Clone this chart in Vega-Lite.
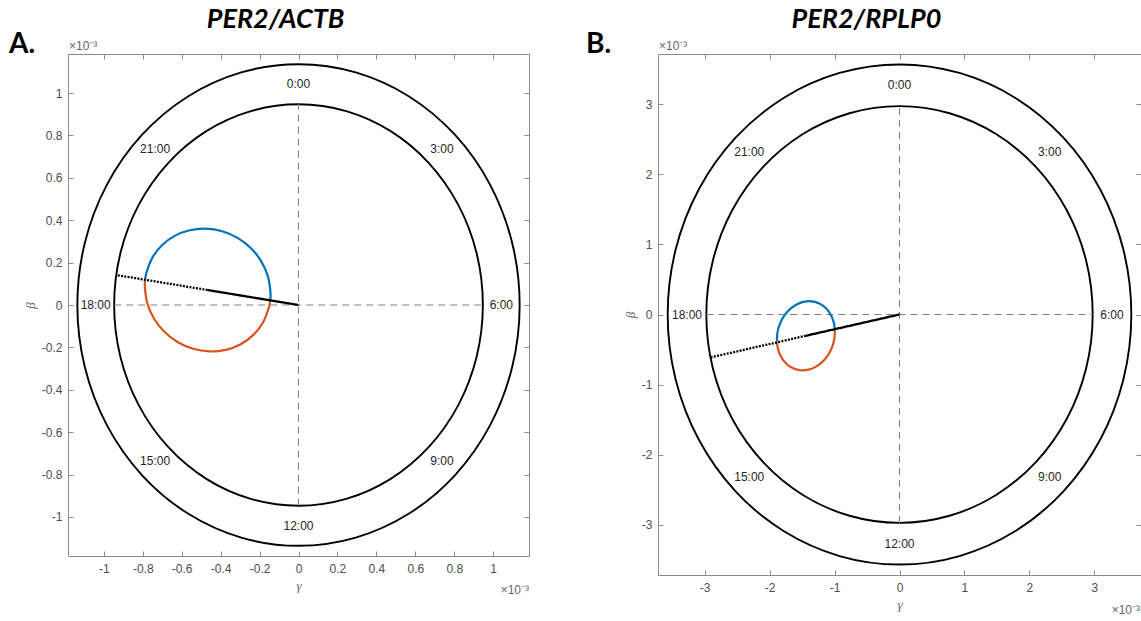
{
  "$schema": "https://vega.github.io/schema/vega-lite/v6.json",
  "padding": {"left": 8, "top": 5, "right": 0, "bottom": 0},
  "spacing": 55,
  "config": {
    "view": {"stroke": "#8c8c8c", "strokeWidth": 1},
    "axis": {
      "domain": false, "grid": false, "tickColor": "#8c8c8c", "tickSize": -5,
      "labelFont": "Liberation Sans", "labelFontSize": 12, "labelColor": "#4d4d4d", "labelPadding": 12,
      "titleFont": "Liberation Serif", "titleFontStyle": "italic", "titleFontWeight": "normal",
      "titleFontSize": 13, "titleColor": "#666666", "titlePadding": 5
    }
  },
  "datasets": {
    "ringA": [
      {"ring": "inner", "i": 0, "x": 0, "y": 0.947},
      {"ring": "inner", "i": 1, "x": 0.2451, "y": 0.9147},
      {"ring": "inner", "i": 2, "x": 0.4735, "y": 0.8201},
      {"ring": "inner", "i": 3, "x": 0.6696, "y": 0.6696},
      {"ring": "inner", "i": 4, "x": 0.8201, "y": 0.4735},
      {"ring": "inner", "i": 5, "x": 0.9147, "y": 0.2451},
      {"ring": "inner", "i": 6, "x": 0.947, "y": 0},
      {"ring": "inner", "i": 7, "x": 0.9147, "y": -0.2451},
      {"ring": "inner", "i": 8, "x": 0.8201, "y": -0.4735},
      {"ring": "inner", "i": 9, "x": 0.6696, "y": -0.6696},
      {"ring": "inner", "i": 10, "x": 0.4735, "y": -0.8201},
      {"ring": "inner", "i": 11, "x": 0.2451, "y": -0.9147},
      {"ring": "inner", "i": 12, "x": 0, "y": -0.947},
      {"ring": "inner", "i": 13, "x": -0.2451, "y": -0.9147},
      {"ring": "inner", "i": 14, "x": -0.4735, "y": -0.8201},
      {"ring": "inner", "i": 15, "x": -0.6696, "y": -0.6696},
      {"ring": "inner", "i": 16, "x": -0.8201, "y": -0.4735},
      {"ring": "inner", "i": 17, "x": -0.9147, "y": -0.2451},
      {"ring": "inner", "i": 18, "x": -0.947, "y": 0},
      {"ring": "inner", "i": 19, "x": -0.9147, "y": 0.2451},
      {"ring": "inner", "i": 20, "x": -0.8201, "y": 0.4735},
      {"ring": "inner", "i": 21, "x": -0.6696, "y": 0.6696},
      {"ring": "inner", "i": 22, "x": -0.4735, "y": 0.8201},
      {"ring": "inner", "i": 23, "x": -0.2451, "y": 0.9147},
      {"ring": "outer", "i": 0, "x": 0, "y": 1.136},
      {"ring": "outer", "i": 1, "x": 0.294, "y": 1.0973},
      {"ring": "outer", "i": 2, "x": 0.568, "y": 0.9838},
      {"ring": "outer", "i": 3, "x": 0.8033, "y": 0.8033},
      {"ring": "outer", "i": 4, "x": 0.9838, "y": 0.568},
      {"ring": "outer", "i": 5, "x": 1.0973, "y": 0.294},
      {"ring": "outer", "i": 6, "x": 1.136, "y": 0},
      {"ring": "outer", "i": 7, "x": 1.0973, "y": -0.294},
      {"ring": "outer", "i": 8, "x": 0.9838, "y": -0.568},
      {"ring": "outer", "i": 9, "x": 0.8033, "y": -0.8033},
      {"ring": "outer", "i": 10, "x": 0.568, "y": -0.9838},
      {"ring": "outer", "i": 11, "x": 0.294, "y": -1.0973},
      {"ring": "outer", "i": 12, "x": 0, "y": -1.136},
      {"ring": "outer", "i": 13, "x": -0.294, "y": -1.0973},
      {"ring": "outer", "i": 14, "x": -0.568, "y": -0.9838},
      {"ring": "outer", "i": 15, "x": -0.8033, "y": -0.8033},
      {"ring": "outer", "i": 16, "x": -0.9838, "y": -0.568},
      {"ring": "outer", "i": 17, "x": -1.0973, "y": -0.294},
      {"ring": "outer", "i": 18, "x": -1.136, "y": 0},
      {"ring": "outer", "i": 19, "x": -1.0973, "y": 0.294},
      {"ring": "outer", "i": 20, "x": -0.9838, "y": 0.568},
      {"ring": "outer", "i": 21, "x": -0.8033, "y": 0.8033},
      {"ring": "outer", "i": 22, "x": -0.568, "y": 0.9838},
      {"ring": "outer", "i": 23, "x": -0.294, "y": 1.0973}
    ],
    "ringB": [
      {"ring": "inner", "i": 0, "x": 0, "y": 2.975},
      {"ring": "inner", "i": 1, "x": 0.7699, "y": 2.8736},
      {"ring": "inner", "i": 2, "x": 1.4875, "y": 2.5764},
      {"ring": "inner", "i": 3, "x": 2.1036, "y": 2.1036},
      {"ring": "inner", "i": 4, "x": 2.5764, "y": 1.4875},
      {"ring": "inner", "i": 5, "x": 2.8736, "y": 0.7699},
      {"ring": "inner", "i": 6, "x": 2.975, "y": 0},
      {"ring": "inner", "i": 7, "x": 2.8736, "y": -0.7699},
      {"ring": "inner", "i": 8, "x": 2.5764, "y": -1.4875},
      {"ring": "inner", "i": 9, "x": 2.1036, "y": -2.1036},
      {"ring": "inner", "i": 10, "x": 1.4875, "y": -2.5764},
      {"ring": "inner", "i": 11, "x": 0.7699, "y": -2.8736},
      {"ring": "inner", "i": 12, "x": 0, "y": -2.975},
      {"ring": "inner", "i": 13, "x": -0.7699, "y": -2.8736},
      {"ring": "inner", "i": 14, "x": -1.4875, "y": -2.5764},
      {"ring": "inner", "i": 15, "x": -2.1036, "y": -2.1036},
      {"ring": "inner", "i": 16, "x": -2.5764, "y": -1.4875},
      {"ring": "inner", "i": 17, "x": -2.8736, "y": -0.7699},
      {"ring": "inner", "i": 18, "x": -2.975, "y": 0},
      {"ring": "inner", "i": 19, "x": -2.8736, "y": 0.7699},
      {"ring": "inner", "i": 20, "x": -2.5764, "y": 1.4875},
      {"ring": "inner", "i": 21, "x": -2.1036, "y": 2.1036},
      {"ring": "inner", "i": 22, "x": -1.4875, "y": 2.5764},
      {"ring": "inner", "i": 23, "x": -0.7699, "y": 2.8736},
      {"ring": "outer", "i": 0, "x": 0, "y": 3.57},
      {"ring": "outer", "i": 1, "x": 0.9239, "y": 3.4483},
      {"ring": "outer", "i": 2, "x": 1.785, "y": 3.0916},
      {"ring": "outer", "i": 3, "x": 2.5243, "y": 2.5243},
      {"ring": "outer", "i": 4, "x": 3.0916, "y": 1.785},
      {"ring": "outer", "i": 5, "x": 3.4483, "y": 0.9239},
      {"ring": "outer", "i": 6, "x": 3.57, "y": 0},
      {"ring": "outer", "i": 7, "x": 3.4483, "y": -0.9239},
      {"ring": "outer", "i": 8, "x": 3.0916, "y": -1.785},
      {"ring": "outer", "i": 9, "x": 2.5243, "y": -2.5243},
      {"ring": "outer", "i": 10, "x": 1.785, "y": -3.0916},
      {"ring": "outer", "i": 11, "x": 0.9239, "y": -3.4483},
      {"ring": "outer", "i": 12, "x": 0, "y": -3.57},
      {"ring": "outer", "i": 13, "x": -0.9239, "y": -3.4483},
      {"ring": "outer", "i": 14, "x": -1.785, "y": -3.0916},
      {"ring": "outer", "i": 15, "x": -2.5243, "y": -2.5243},
      {"ring": "outer", "i": 16, "x": -3.0916, "y": -1.785},
      {"ring": "outer", "i": 17, "x": -3.4483, "y": -0.9239},
      {"ring": "outer", "i": 18, "x": -3.57, "y": 0},
      {"ring": "outer", "i": 19, "x": -3.4483, "y": 0.9239},
      {"ring": "outer", "i": 20, "x": -3.0916, "y": 1.785},
      {"ring": "outer", "i": 21, "x": -2.5243, "y": 2.5243},
      {"ring": "outer", "i": 22, "x": -1.785, "y": 3.0916},
      {"ring": "outer", "i": 23, "x": -0.9239, "y": 3.4483}
    ],
    "ellA": [
      {"part": "upper", "i": 0, "x": -0.1457, "y": 0.0221},
      {"part": "upper", "i": 1, "x": -0.1441, "y": 0.061},
      {"part": "upper", "i": 2, "x": -0.1575, "y": 0.1363},
      {"part": "upper", "i": 3, "x": -0.192, "y": 0.207},
      {"part": "upper", "i": 4, "x": -0.2452, "y": 0.2685},
      {"part": "upper", "i": 5, "x": -0.3135, "y": 0.3165},
      {"part": "upper", "i": 6, "x": -0.3922, "y": 0.3477},
      {"part": "upper", "i": 7, "x": -0.4759, "y": 0.3601},
      {"part": "upper", "i": 8, "x": -0.5592, "y": 0.3527},
      {"part": "upper", "i": 9, "x": -0.636, "y": 0.326},
      {"part": "upper", "i": 10, "x": -0.7011, "y": 0.2819},
      {"part": "upper", "i": 11, "x": -0.7505, "y": 0.2234},
      {"part": "upper", "i": 12, "x": -0.7804, "y": 0.1546},
      {"part": "upper", "i": 13, "x": -0.7873, "y": 0.1189},
      {"part": "lower", "i": 0, "x": -0.7873, "y": 0.1189},
      {"part": "lower", "i": 1, "x": -0.7889, "y": 0.08},
      {"part": "lower", "i": 2, "x": -0.7755, "y": 0.0047},
      {"part": "lower", "i": 3, "x": -0.741, "y": -0.066},
      {"part": "lower", "i": 4, "x": -0.6878, "y": -0.1275},
      {"part": "lower", "i": 5, "x": -0.6195, "y": -0.1755},
      {"part": "lower", "i": 6, "x": -0.5408, "y": -0.2067},
      {"part": "lower", "i": 7, "x": -0.4571, "y": -0.2191},
      {"part": "lower", "i": 8, "x": -0.3738, "y": -0.2117},
      {"part": "lower", "i": 9, "x": -0.297, "y": -0.185},
      {"part": "lower", "i": 10, "x": -0.2319, "y": -0.1409},
      {"part": "lower", "i": 11, "x": -0.1825, "y": -0.0824},
      {"part": "lower", "i": 12, "x": -0.1526, "y": -0.0136},
      {"part": "lower", "i": 13, "x": -0.1457, "y": 0.0221}
    ],
    "ellB": [
      {"part": "upper", "i": 0, "x": -0.9956, "y": -0.2096},
      {"part": "upper", "i": 1, "x": -1.0153, "y": -0.1024},
      {"part": "upper", "i": 2, "x": -1.0649, "y": 0.0075},
      {"part": "upper", "i": 3, "x": -1.1403, "y": 0.0963},
      {"part": "upper", "i": 4, "x": -1.2361, "y": 0.1578},
      {"part": "upper", "i": 5, "x": -1.3459, "y": 0.1879},
      {"part": "upper", "i": 6, "x": -1.4623, "y": 0.1845},
      {"part": "upper", "i": 7, "x": -1.5773, "y": 0.1478},
      {"part": "upper", "i": 8, "x": -1.683, "y": 0.0804},
      {"part": "upper", "i": 9, "x": -1.7722, "y": -0.0132},
      {"part": "upper", "i": 10, "x": -1.8389, "y": -0.1266},
      {"part": "upper", "i": 11, "x": -1.8786, "y": -0.252},
      {"part": "upper", "i": 12, "x": -1.8884, "y": -0.381},
      {"part": "upper", "i": 13, "x": -1.8874, "y": -0.3974},
      {"part": "lower", "i": 0, "x": -1.8874, "y": -0.3974},
      {"part": "lower", "i": 1, "x": -1.8677, "y": -0.5046},
      {"part": "lower", "i": 2, "x": -1.8181, "y": -0.6145},
      {"part": "lower", "i": 3, "x": -1.7427, "y": -0.7033},
      {"part": "lower", "i": 4, "x": -1.6469, "y": -0.7648},
      {"part": "lower", "i": 5, "x": -1.5371, "y": -0.7949},
      {"part": "lower", "i": 6, "x": -1.4207, "y": -0.7915},
      {"part": "lower", "i": 7, "x": -1.3057, "y": -0.7548},
      {"part": "lower", "i": 8, "x": -1.2, "y": -0.6874},
      {"part": "lower", "i": 9, "x": -1.1108, "y": -0.5938},
      {"part": "lower", "i": 10, "x": -1.0441, "y": -0.4804},
      {"part": "lower", "i": 11, "x": -1.0044, "y": -0.355},
      {"part": "lower", "i": 12, "x": -0.9946, "y": -0.226},
      {"part": "lower", "i": 13, "x": -0.9956, "y": -0.2096}
    ],
    "radA": [
      {"seg": "solid", "i": 0, "x": 0, "y": 0},
      {"seg": "solid", "i": 1, "x": -0.4665, "y": 0.0705},
      {"seg": "dotted", "i": 0, "x": -0.4665, "y": 0.0705},
      {"seg": "dotted", "i": 1, "x": -0.9364, "y": 0.1415}
    ],
    "radB": [
      {"seg": "solid", "i": 0, "x": 0, "y": 0},
      {"seg": "solid", "i": 1, "x": -1.4415, "y": -0.3035},
      {"seg": "dotted", "i": 0, "x": -1.4415, "y": -0.3035},
      {"seg": "dotted", "i": 1, "x": -2.9113, "y": -0.6129}
    ],
    "dashA": [
      {"seg": "h", "i": 0, "x": -0.947, "y": 0},
      {"seg": "h", "i": 1, "x": 0.947, "y": 0},
      {"seg": "v", "i": 0, "x": 0, "y": -0.947},
      {"seg": "v", "i": 1, "x": 0, "y": 0.947}
    ],
    "dashB": [
      {"seg": "h", "i": 0, "x": -2.975, "y": 0},
      {"seg": "h", "i": 1, "x": 2.975, "y": 0},
      {"seg": "v", "i": 0, "x": 0, "y": -2.975},
      {"seg": "v", "i": 1, "x": 0, "y": 2.975}
    ],
    "lblA": [
      {"t": "0:00", "x": 0, "y": 1.0417},
      {"t": "3:00", "x": 0.7366, "y": 0.7366},
      {"t": "6:00", "x": 1.0417, "y": 0},
      {"t": "9:00", "x": 0.7366, "y": -0.7366},
      {"t": "12:00", "x": 0, "y": -1.0417},
      {"t": "15:00", "x": -0.7366, "y": -0.7366},
      {"t": "18:00", "x": -1.0417, "y": 0},
      {"t": "21:00", "x": -0.7366, "y": 0.7366}
    ],
    "lblB": [
      {"t": "0:00", "x": 0, "y": 3.2725},
      {"t": "3:00", "x": 2.314, "y": 2.314},
      {"t": "6:00", "x": 3.2725, "y": 0},
      {"t": "9:00", "x": 2.314, "y": -2.314},
      {"t": "12:00", "x": 0, "y": -3.2725},
      {"t": "15:00", "x": -2.314, "y": -2.314},
      {"t": "18:00", "x": -3.2725, "y": 0},
      {"t": "21:00", "x": -2.314, "y": 2.314}
    ]
  },
  "hconcat": [
    {
      "width": 461,
      "height": 502,
      "title": {"text": "PER2/ACTB", "font": "Lato", "fontSize": 27, "fontStyle": "italic", "fontWeight": "bold", "color": "#000000", "offset": -3, "frame": "group", "dx": -23},
      "layer": [
        {
          "data": {"name": "ringA"},
          "mark": {"type": "line", "interpolate": "cardinal-closed", "color": "#000000", "strokeWidth": 1.9},
          "encoding": {
            "x": {"field": "x", "type": "quantitative", "scale": {"domain": [-1.184, 1.184], "nice": false, "zero": false},
                  "axis": {"orient": "bottom", "values": [-1, -0.8, -0.6, -0.4, -0.2, 0, 0.2, 0.4, 0.6, 0.8, 1], "labelExpr": "'' + datum.value", "title": "γ"}},
            "y": {"field": "y", "type": "quantitative", "scale": {"domain": [-1.184, 1.184], "nice": false, "zero": false},
                  "axis": {"orient": "left", "values": [-1, -0.8, -0.6, -0.4, -0.2, 0, 0.2, 0.4, 0.6, 0.8, 1], "labelExpr": "'' + datum.value", "title": "β", "labelPadding": 11, "titlePadding": 4}},
            "detail": {"field": "ring", "type": "nominal"},
            "order": {"field": "i", "type": "quantitative"}
          }
        },
        {
          "data": {"name": "dashA"},
          "mark": {"type": "line", "color": "#808080", "strokeWidth": 1.1, "strokeDash": [7, 5]},
          "encoding": {
            "x": {"field": "x", "type": "quantitative", "scale": {"domain": [-1.184, 1.184], "nice": false, "zero": false},
                  "axis": {"orient": "top", "values": [-1, -0.8, -0.6, -0.4, -0.2, 0, 0.2, 0.4, 0.6, 0.8, 1], "labels": false, "title": null}},
            "y": {"field": "y", "type": "quantitative", "scale": {"domain": [-1.184, 1.184], "nice": false, "zero": false},
                  "axis": {"orient": "right", "values": [-1, -0.8, -0.6, -0.4, -0.2, 0, 0.2, 0.4, 0.6, 0.8, 1], "labels": false, "title": null}},
            "detail": {"field": "seg", "type": "nominal"},
            "order": {"field": "i", "type": "quantitative"}
          }
        },
        {
          "data": {"name": "ellA"},
          "mark": {"type": "line", "interpolate": "cardinal", "strokeWidth": 2.2},
          "encoding": {
            "x": {"field": "x", "type": "quantitative", "axis": null},
            "y": {"field": "y", "type": "quantitative", "axis": null},
            "color": {"field": "part", "type": "nominal", "scale": {"domain": ["upper", "lower"], "range": ["#0072BD", "#D95319"]}, "legend": null},
            "order": {"field": "i", "type": "quantitative"}
          }
        },
        {
          "data": {"name": "radA"},
          "mark": {"type": "line", "color": "#000000", "strokeWidth": 2.3},
          "encoding": {
            "x": {"field": "x", "type": "quantitative", "axis": null},
            "y": {"field": "y", "type": "quantitative", "axis": null},
            "strokeDash": {"field": "seg", "type": "nominal", "scale": {"domain": ["solid", "dotted"], "range": [[1, 0], [2, 1.3]]}, "legend": null},
            "order": {"field": "i", "type": "quantitative"}
          }
        },
        {
          "data": {"name": "lblA"},
          "mark": {"type": "text", "font": "Liberation Sans", "fontSize": 12, "color": "#262626", "align": "center", "baseline": "middle"},
          "encoding": {
            "x": {"field": "x", "type": "quantitative", "axis": null},
            "y": {"field": "y", "type": "quantitative", "axis": null},
            "text": {"field": "t", "type": "nominal"}
          }
        },
        {
          "data": {"values": [{}]},
          "mark": {"type": "text", "text": "A.", "font": "Lato", "fontSize": 28, "fontWeight": "bold", "color": "#000000", "align": "left", "baseline": "middle", "dx": -59, "dy": -9},
          "encoding": {"x": {"datum": -1.184, "type": "quantitative", "axis": null}, "y": {"datum": 1.184, "type": "quantitative", "axis": null}}
        },
        {
          "data": {"values": [{}]},
          "mark": {"type": "text", "text": "×10⁻³", "font": "Liberation Sans", "fontSize": 12, "color": "#666666", "align": "left", "baseline": "middle", "dx": 1, "dy": -8},
          "encoding": {"x": {"datum": -1.184, "type": "quantitative", "axis": null}, "y": {"datum": 1.184, "type": "quantitative", "axis": null}}
        },
        {
          "data": {"values": [{}]},
          "mark": {"type": "text", "text": "×10⁻³", "font": "Liberation Sans", "fontSize": 12, "color": "#666666", "align": "right", "baseline": "middle", "dx": 0, "dy": 34},
          "encoding": {"x": {"datum": 1.184, "type": "quantitative", "axis": null}, "y": {"datum": -1.184, "type": "quantitative", "axis": null}}
        }
      ],
      "resolve": {"axis": {"x": "independent", "y": "independent"}}
    },
    {
      "width": 483,
      "height": 521,
      "title": {"text": "PER2/RPLP0", "font": "Lato", "fontSize": 27, "fontStyle": "italic", "fontWeight": "bold", "color": "#000000", "offset": -3, "frame": "group", "dx": -33},
      "layer": [
        {
          "data": {"name": "ringB"},
          "mark": {"type": "line", "interpolate": "cardinal-closed", "color": "#000000", "strokeWidth": 1.9},
          "encoding": {
            "x": {"field": "x", "type": "quantitative", "scale": {"domain": [-3.719, 3.719], "nice": false, "zero": false},
                  "axis": {"orient": "bottom", "values": [-3, -2, -1, 0, 1, 2, 3], "labelExpr": "'' + datum.value", "title": "γ"}},
            "y": {"field": "y", "type": "quantitative", "scale": {"domain": [-3.719, 3.719], "nice": false, "zero": false},
                  "axis": {"orient": "left", "values": [-3, -2, -1, 0, 1, 2, 3], "labelExpr": "'' + datum.value", "title": "β", "labelPadding": 11, "titlePadding": 4}},
            "detail": {"field": "ring", "type": "nominal"},
            "order": {"field": "i", "type": "quantitative"}
          }
        },
        {
          "data": {"name": "dashB"},
          "mark": {"type": "line", "color": "#808080", "strokeWidth": 1.1, "strokeDash": [7, 5]},
          "encoding": {
            "x": {"field": "x", "type": "quantitative", "scale": {"domain": [-3.719, 3.719], "nice": false, "zero": false},
                  "axis": {"orient": "top", "values": [-3, -2, -1, 0, 1, 2, 3], "labels": false, "title": null}},
            "y": {"field": "y", "type": "quantitative", "scale": {"domain": [-3.719, 3.719], "nice": false, "zero": false},
                  "axis": {"orient": "right", "values": [-3, -2, -1, 0, 1, 2, 3], "labels": false, "title": null}},
            "detail": {"field": "seg", "type": "nominal"},
            "order": {"field": "i", "type": "quantitative"}
          }
        },
        {
          "data": {"name": "ellB"},
          "mark": {"type": "line", "interpolate": "cardinal", "strokeWidth": 2.2},
          "encoding": {
            "x": {"field": "x", "type": "quantitative", "axis": null},
            "y": {"field": "y", "type": "quantitative", "axis": null},
            "color": {"field": "part", "type": "nominal", "scale": {"domain": ["upper", "lower"], "range": ["#0072BD", "#D95319"]}, "legend": null},
            "order": {"field": "i", "type": "quantitative"}
          }
        },
        {
          "data": {"name": "radB"},
          "mark": {"type": "line", "color": "#000000", "strokeWidth": 2.3},
          "encoding": {
            "x": {"field": "x", "type": "quantitative", "axis": null},
            "y": {"field": "y", "type": "quantitative", "axis": null},
            "strokeDash": {"field": "seg", "type": "nominal", "scale": {"domain": ["solid", "dotted"], "range": [[1, 0], [2, 1.3]]}, "legend": null},
            "order": {"field": "i", "type": "quantitative"}
          }
        },
        {
          "data": {"name": "lblB"},
          "mark": {"type": "text", "font": "Liberation Sans", "fontSize": 12, "color": "#262626", "align": "center", "baseline": "middle"},
          "encoding": {
            "x": {"field": "x", "type": "quantitative", "axis": null},
            "y": {"field": "y", "type": "quantitative", "axis": null},
            "text": {"field": "t", "type": "nominal"}
          }
        },
        {
          "data": {"values": [{}]},
          "mark": {"type": "text", "text": "B.", "font": "Lato", "fontSize": 28, "fontWeight": "bold", "color": "#000000", "align": "left", "baseline": "middle", "dx": -72, "dy": -9},
          "encoding": {"x": {"datum": -3.719, "type": "quantitative", "axis": null}, "y": {"datum": 3.719, "type": "quantitative", "axis": null}}
        },
        {
          "data": {"values": [{}]},
          "mark": {"type": "text", "text": "×10⁻³", "font": "Liberation Sans", "fontSize": 12, "color": "#666666", "align": "left", "baseline": "middle", "dx": 1, "dy": -8},
          "encoding": {"x": {"datum": -3.719, "type": "quantitative", "axis": null}, "y": {"datum": 3.719, "type": "quantitative", "axis": null}}
        },
        {
          "data": {"values": [{}]},
          "mark": {"type": "text", "text": "×10⁻³", "font": "Liberation Sans", "fontSize": 12, "color": "#666666", "align": "right", "baseline": "middle", "dx": -1, "dy": 35},
          "encoding": {"x": {"datum": 3.719, "type": "quantitative", "axis": null}, "y": {"datum": -3.719, "type": "quantitative", "axis": null}}
        }
      ],
      "resolve": {"axis": {"x": "independent", "y": "independent"}}
    }
  ]
}
